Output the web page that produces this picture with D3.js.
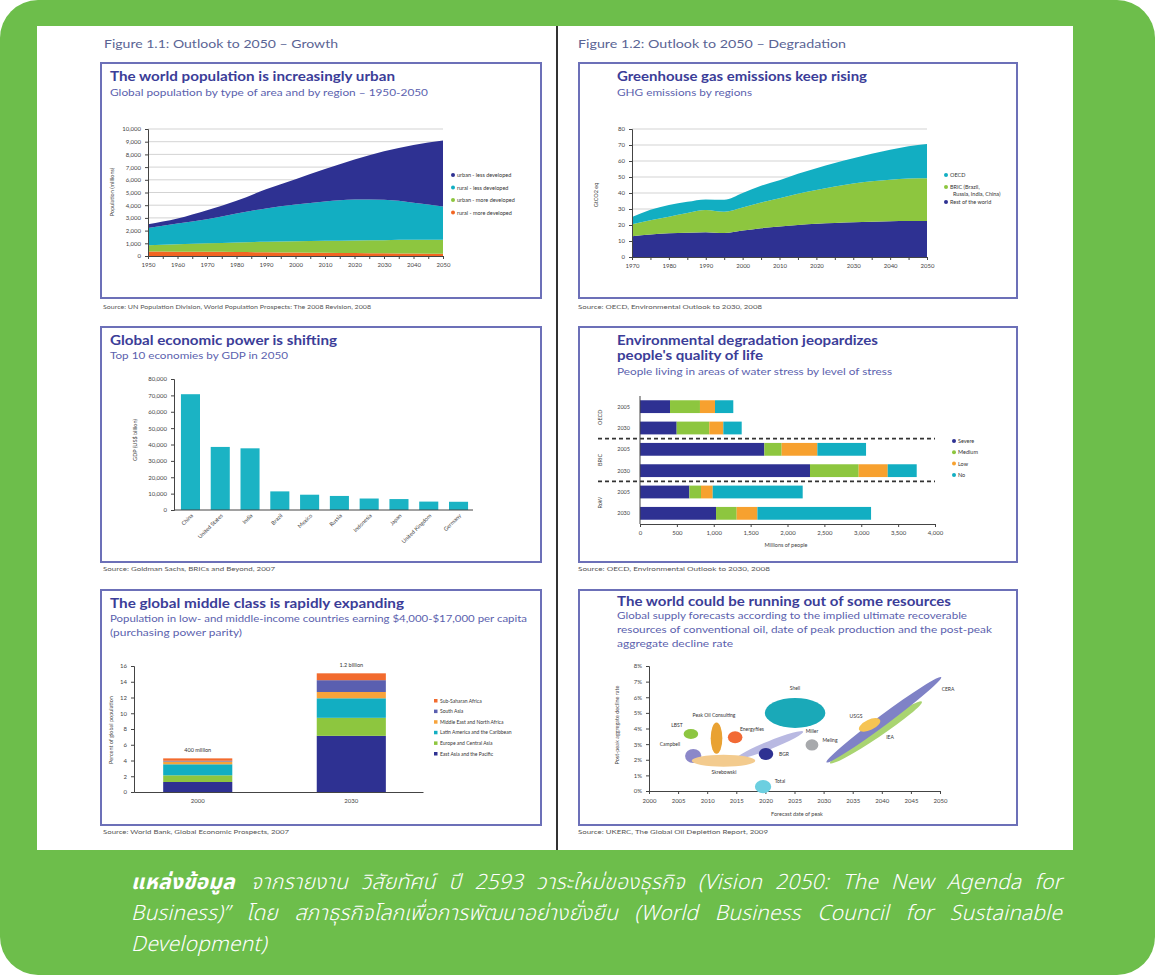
<!DOCTYPE html>
<html>
<head>
<meta charset="utf-8">
<script src="https://cdn.jsdelivr.net/npm/d3@7"></script>
<style>
  body { margin: 0; background: #fff; }
  #page { position: relative; width: 1155px; height: 975px; }
  #note {
    position: absolute; left: 131px; top: 867px; width: 931px;
    font-family: "Noto Sans Thai", "Noto Sans Thai Looped", "Loma", "Garuda", "Noto Sans", sans-serif;
    font-style: italic; font-weight: 300; font-size: 21px; letter-spacing: 0.2px; line-height: 31px; color: #fff;
  }
  #note div { text-align: justify; text-align-last: justify; white-space: nowrap; }
  #note div.last { text-align-last: left; }
  #note b { font-weight: bold; margin-right: 3px; }
  .tk text { font-family: Lato, "Open Sans", sans-serif; font-size: 6px; fill: #444; }
  .tk line, .tk path { stroke: #444; }
</style>
</head>
<body>
<div id="page"></div>
<script>
// ---------- data ----------
// world population by type of area (millions), stacked bottom to top
var popYears = [1950, 1960, 1970, 1980, 1990, 2000, 2010, 2020, 2030, 2040, 2050];
var popRuralMore = [350, 340, 330, 310, 290, 270, 250, 230, 210, 190, 170];
var popUrbanMore = [500, 590, 670, 760, 830, 890, 950, 1000, 1040, 1080, 1110];
var popRuralLess = [1350, 1620, 1900, 2280, 2630, 2890, 3100, 3220, 3170, 2930, 2620];
var popUrbanLess = [300, 400, 700, 1000, 1500, 2000, 2550, 3150, 3830, 4550, 5200];
var popLabels = ["urban - less developed", "rural - less developed", "urban - more developed", "rural - more developed"];

// GHG emissions by region (GtCO2 eq)
var ghgYears = [1970, 1975, 1980, 1985, 1990, 1995, 2000, 2005, 2010, 2015, 2020, 2025, 2030, 2035, 2040, 2045, 2050];
var ghgRest = [13, 14, 14.8, 15.2, 15.5, 15, 16.5, 18, 19, 20, 20.8, 21.3, 21.7, 22, 22.3, 22.5, 22.5];
var ghgBric = [7.5, 9, 10.4, 12.3, 13.9, 13.3, 14.5, 16, 17.7, 19.5, 21, 22.7, 24.3, 25.3, 26, 26.5, 26.7];
var ghgOecd = [4.5, 6.5, 7.3, 7, 6.6, 7.5, 9, 10.5, 11.3, 12.5, 13.7, 14.8, 15.7, 17.2, 18.7, 20.2, 21.4];
var ghgLabels = [["OECD"], ["BRIC (Brazil,", "Russia, India, China)"], ["Rest of the world"]];

// top 10 economies by GDP in 2050 (US$ billion)
var gdpCountries = ["China", "United States", "India", "Brazil", "Mexico", "Russia", "Indonesia", "Japan", "United Kingdom", "Germany"];
var gdpValues = [70710, 38514, 37668, 11366, 9340, 8580, 7010, 6677, 5133, 5024];

// people living in areas of water stress (millions)
var waterGroups = ["OECD", "BRIC", "RoW"];
var waterYears = ["2005", "2030"];
var waterLevels = ["Severe", "Medium", "Low", "No"];
var waterSevere = [407, 497, 1686, 2305, 669, 1031];
var waterMedium = [406, 443, 235, 660, 158, 280];
var waterLow = [204, 190, 484, 394, 159, 281];
var waterNo = [248, 249, 660, 393, 1220, 1541];

// global middle class (percent of world population)
var midYears = ["2000", "2030"];
var midTotals = ["400 million", "1.2 billion"];
var midRegions = ["East Asia and the Pacific", "Europe and Central Asia", "Latin America and the Caribbean",
                  "Middle East and North Africa", "South Asia", "Sub-Saharan Africa"];
var mid2000 = [1.27, 0.85, 1.4, 0.35, 0.1, 0.3];
var mid2030 = [7.13, 2.29, 2.48, 0.8, 1.5, 0.87];

// oil supply forecasts: peak year, decline rate (%), spread in years and in %
var oilNames = ["Shell", "Peak Oil Consulting", "Energyfiles", "LBST", "Campbell", "Skrebowski", "BGR", "Total", "Meling"];
var oilPeak = [2025.1, 2011.6, 2014.8, 2007.2, 2007.6, 2012.8, 2020.1, 2019.6, 2028];
var oilRate = [5.0, 3.38, 3.44, 3.65, 2.24, 1.94, 2.37, 0.28, 2.95];
var oilYearSpread = [5.2, 1.0, 1.25, 1.25, 1.4, 5.45, 1.25, 1.4, 1.1];
var oilRateSpread = [0.96, 1.0, 0.38, 0.32, 0.45, 0.38, 0.38, 0.42, 0.36];
// forecasts given as a range from one peak/decline pair to another
var bandNames = ["IEA", "CERA", "Miller", "USGS"];
var bandFromYear = [2031.1, 2030.5, 2015.1, 2036.1];
var bandFromRate = [1.78, 1.83, 2.1, 3.91];
var bandToYear = [2046.9, 2050.2, 2026.5, 2039.7];
var bandToRate = [5.72, 7.29, 3.8, 4.55];
var bandHalfWidth = [0.35, 0.33, 0.26, 0.33];

// note under the figures, one entry per printed line
var noteLines = [
  "จากรายงาน วิสัยทัศน์ ปี 2593 วาระใหม่ของธุรกิจ (Vision 2050: The New Agenda for",
  "Business)” โดย สภาธุรกิจโลกเพื่อการพัฒนาอย่างยั่งยืน (World Business Council for Sustainable",
  "Development)"
];

// ---------- colours ----------
var navy = "#2e3192", cyan = "#12aec2", green = "#8dc63f", orange = "#f26522";
var titleColor = "#3b3d98", subColor = "#5b5fae", frameColor = "#6c70b8";
var font = "Lato, 'Open Sans', sans-serif";

var svg = d3.select("#page").append("svg")
  .attr("width", 1155).attr("height", 975);

// green background with the white page on it
svg.append("rect").attr("width", 1155).attr("height", 975).attr("rx", 38).attr("fill", "#6dbe4b");
svg.append("rect").attr("x", 37).attr("y", 26).attr("width", 1036).attr("height", 824).attr("fill", "#fff");
svg.append("line").attr("x1", 557).attr("x2", 557).attr("y1", 26).attr("y2", 850)
  .attr("stroke", "#333").attr("stroke-width", 2);

function txt(x, y, s, size, color, opts) {
  opts = opts || {};
  var t = svg.append("text").attr("x", x).attr("y", y).text(s)
    .attr("font-family", font).attr("font-size", size).attr("fill", color);
  if (opts.bold) t.attr("font-weight", "bold");
  if (opts.len) t.attr("textLength", opts.len).attr("lengthAdjust", "spacingAndGlyphs");
  if (opts.anchor) t.attr("text-anchor", opts.anchor);
  if (opts.rotate) t.attr("transform", "rotate(" + opts.rotate + "," + x + "," + y + ")");
  return t;
}

function frame(x, y, w, h) {
  svg.append("rect").attr("x", x).attr("y", y).attr("width", w).attr("height", h)
    .attr("fill", "#fff").attr("stroke", frameColor).attr("stroke-width", 2);
}

function styleAxis(g) {
  g.attr("class", "tk");
  g.selectAll("text").attr("font-family", null).attr("font-size", null);
}

// headers
txt(104, 48, "Figure 1.1: Outlook to 2050 – Growth", 11.5, "#5a6494", {len: 234});
txt(578, 48, "Figure 1.2: Outlook to 2050 – Degradation", 11.5, "#5a6494", {len: 268});

// panel frames
frame(101, 63, 440, 235);
frame(579, 63, 438, 235);
frame(101, 327, 440, 235);
frame(579, 327, 438, 235);
frame(101, 590, 440, 235);
frame(579, 590, 438, 235);

// sources
txt(103, 309, "Source: UN Population Division, World Population Prospects: The 2008 Revision, 2008", 5.5, "#555", {len: 268});
txt(578, 309, "Source: OECD, Environmental Outlook to 2030, 2008", 5.5, "#555", {len: 184});
txt(103, 571, "Source: Goldman Sachs, BRICs and Beyond, 2007", 5.5, "#555", {len: 172});
txt(578, 571, "Source: OECD, Environmental Outlook to 2030, 2008", 5.5, "#555", {len: 192});
txt(103, 834, "Source: World Bank, Global Economic Prospects, 2007", 5.5, "#555", {len: 186});
txt(578, 834, "Source: UKERC, The Global Oil Depletion Report, 2009", 5.5, "#555", {len: 190});

// ---------- panel 1: world population ----------
txt(110, 81, "The world population is increasingly urban", 13, titleColor, {bold: true, len: 285});
txt(110, 96, "Global population by type of area and by region – 1950-2050", 10, subColor, {len: 318});

var x1 = d3.scaleLinear().domain([1950, 2050]).range([148, 443]);
var y1 = d3.scaleLinear().domain([0, 10000]).range([256, 129]);

var popRows = popYears.map(function(yr, i) {
  return {year: yr, rm: popRuralMore[i], um: popUrbanMore[i], rl: popRuralLess[i], ul: popUrbanLess[i]};
});
var popStack = d3.stack().keys(["rm", "um", "rl", "ul"])(popRows);
var popColors = [orange, green, cyan, navy];

svg.append("g").selectAll("line").data(y1.ticks(10).slice(1)).enter().append("line")
  .attr("x1", 148).attr("x2", 443)
  .attr("y1", function(d) { return y1(d); }).attr("y2", function(d) { return y1(d); })
  .attr("stroke", "#c8c8c8").attr("stroke-width", 0.8);

var area1 = d3.area().curve(d3.curveMonotoneX)
  .x(function(d) { return x1(d.data.year); })
  .y0(function(d) { return y1(d[0]); })
  .y1(function(d) { return y1(d[1]); });

svg.append("g").selectAll("path").data(popStack).enter().append("path")
  .attr("d", area1).attr("fill", function(d, i) { return popColors[i]; });

svg.append("g").attr("transform", "translate(148,0)")
  .call(d3.axisLeft(y1).ticks(10).tickFormat(d3.format(",")).tickSize(3).tickPadding(4))
  .call(styleAxis);
svg.append("g").attr("transform", "translate(0,256)")
  .call(d3.axisBottom(x1).tickValues(d3.range(1950, 2051, 5))
    .tickFormat(function(d) { return d % 10 == 0 ? d : ""; }).tickSize(3).tickPadding(4))
  .call(styleAxis);
txt(114, 192, "Population (millions)", 5.5, "#444", {anchor: "middle", rotate: -90});

// legend (top to bottom)
var popLegendColors = [navy, cyan, green, orange];
popLabels.forEach(function(s, i) {
  svg.append("circle").attr("cx", 453).attr("cy", 175 + i * 12.5).attr("r", 2).attr("fill", popLegendColors[i]);
  txt(457, 177 + i * 12.5, s, 5.5, "#333");
});

// ---------- panel 2: GHG emissions ----------
txt(617, 81, "Greenhouse gas emissions keep rising", 13, titleColor, {bold: true, len: 250});
txt(617, 96, "GHG emissions by regions", 10, subColor, {len: 135});

var x2 = d3.scaleLinear().domain([1970, 2050]).range([632, 927]);
var y2 = d3.scaleLinear().domain([0, 80]).range([257, 129]);

var ghgRows = ghgYears.map(function(yr, i) {
  return {year: yr, rest: ghgRest[i], bric: ghgBric[i], oecd: ghgOecd[i]};
});
var ghgStack = d3.stack().keys(["rest", "bric", "oecd"])(ghgRows);
var ghgColors = [navy, green, cyan];

svg.append("g").selectAll("line").data(d3.range(10, 81, 10)).enter().append("line")
  .attr("x1", 632).attr("x2", 927)
  .attr("y1", function(d) { return y2(d); }).attr("y2", function(d) { return y2(d); })
  .attr("stroke", "#c8c8c8").attr("stroke-width", 0.8);

var area2 = d3.area().curve(d3.curveMonotoneX)
  .x(function(d) { return x2(d.data.year); })
  .y0(function(d) { return y2(d[0]); })
  .y1(function(d) { return y2(d[1]); });

svg.append("g").selectAll("path").data(ghgStack).enter().append("path")
  .attr("d", area2).attr("fill", function(d, i) { return ghgColors[i]; });

svg.append("g").attr("transform", "translate(632,0)")
  .call(d3.axisLeft(y2).ticks(8).tickSize(3).tickPadding(4))
  .call(styleAxis);
svg.append("g").attr("transform", "translate(0,257)")
  .call(d3.axisBottom(x2).tickValues(ghgYears)
    .tickFormat(function(d) { return d % 10 == 0 ? d : ""; }).tickSize(3).tickPadding(4))
  .call(styleAxis);
txt(598, 195, "GtCO2 eq", 5.5, "#444", {anchor: "middle", rotate: -90});

var ghgLegendColors = [cyan, green, navy];
var ghgLegendY = [175, 187, 202];
ghgLabels.forEach(function(lines, i) {
  svg.append("circle").attr("cx", 946).attr("cy", ghgLegendY[i]).attr("r", 2).attr("fill", ghgLegendColors[i]);
  lines.forEach(function(s, j) {
    txt(j == 0 ? 950 : 953, ghgLegendY[i] + 2 + j * 6.5, s, 5.5, "#333");
  });
});

// ---------- panel 3: GDP ----------
txt(110, 345, "Global economic power is shifting", 13, titleColor, {bold: true, len: 227});
txt(110, 359, "Top 10 economies by GDP in 2050", 10, subColor, {len: 178});

var x3 = d3.scaleBand().domain(gdpCountries).range([172, 477]).paddingInner(0.36).paddingOuter(0.3);
var y3 = d3.scaleLinear().domain([0, 80000]).range([510, 379]);

svg.append("g").selectAll("rect").data(gdpValues).enter().append("rect")
  .attr("x", function(d, i) { return x3(gdpCountries[i]); })
  .attr("width", x3.bandwidth())
  .attr("y", function(d) { return y3(d); })
  .attr("height", function(d) { return 510 - y3(d); })
  .attr("fill", "#1bb3c4");

svg.append("g").attr("transform", "translate(174,0)")
  .call(d3.axisLeft(y3).ticks(8).tickFormat(d3.format(",")).tickSize(3).tickPadding(4))
  .call(styleAxis);
svg.append("line").attr("x1", 174).attr("x2", 473).attr("y1", 510).attr("y2", 510).attr("stroke", "#444");
gdpCountries.forEach(function(c) {
  var cx = x3(c) + x3.bandwidth() / 2 + 3;
  txt(cx, 516, c, 5.5, "#444", {anchor: "end", rotate: -45});
});
txt(137, 440, "GDP (US$ billion)", 5.5, "#444", {anchor: "middle", rotate: -90});

// ---------- panel 4: water stress ----------
txt(617, 345, "Environmental degradation jeopardizes", 13, titleColor, {bold: true, len: 261});
txt(617, 360, "people's quality of life", 13, titleColor, {bold: true, len: 146});
txt(617, 375, "People living in areas of water stress by level of stress", 10, subColor, {len: 275});

var rowKeys = [];
waterGroups.forEach(function(g) { waterYears.forEach(function(y) { rowKeys.push(g + y); }); });
var x4 = d3.scaleLinear().domain([0, 4000]).range([640, 935]);
var y4 = d3.scaleBand().domain(rowKeys).range([396, 524]).paddingInner(0.4).paddingOuter(0.2);

var waterRows = rowKeys.map(function(k, i) {
  return {key: k, Severe: waterSevere[i], Medium: waterMedium[i], Low: waterLow[i], No: waterNo[i]};
});
var waterStack = d3.stack().keys(waterLevels)(waterRows);
var waterColors = [navy, green, "#f7a12f", cyan];

svg.append("g").selectAll("g").data(waterStack).enter().append("g")
  .attr("fill", function(d, i) { return waterColors[i]; })
  .selectAll("rect").data(function(d) { return d; }).enter().append("rect")
  .attr("x", function(d) { return x4(d[0]); })
  .attr("width", function(d) { return x4(d[1]) - x4(d[0]); })
  .attr("y", function(d) { return y4(d.data.key); })
  .attr("height", y4.bandwidth());

// dashed separators between groups
[1, 3].forEach(function(i) {
  var yy = (y4(rowKeys[i]) + y4.bandwidth() + y4(rowKeys[i + 1])) / 2;
  svg.append("line").attr("x1", 598).attr("x2", 935).attr("y1", yy).attr("y2", yy)
    .attr("stroke", "#333").attr("stroke-width", 1.6).attr("stroke-dasharray", "4,3");
});

svg.append("line").attr("x1", 640).attr("x2", 640).attr("y1", 396).attr("y2", 524).attr("stroke", "#444");
svg.append("g").attr("transform", "translate(0,524)")
  .call(d3.axisBottom(x4).ticks(8).tickFormat(d3.format(",")).tickSize(3).tickPadding(4))
  .call(styleAxis);
rowKeys.forEach(function(k, i) {
  txt(630, y4(k) + y4.bandwidth() / 2 + 2, waterYears[i % 2], 5.5, "#444", {anchor: "end"});
});
waterGroups.forEach(function(g, i) {
  var yy = (y4(rowKeys[i * 2]) + y4(rowKeys[i * 2 + 1]) + y4.bandwidth()) / 2;
  txt(602, yy, g, 5.5, "#444", {anchor: "middle", rotate: -90});
});
txt(786, 547, "Millions of people", 5.5, "#444", {anchor: "middle"});

waterLevels.forEach(function(s, i) {
  svg.append("circle").attr("cx", 954).attr("cy", 441 + i * 11.3).attr("r", 2).attr("fill", waterColors[i]);
  txt(958, 443 + i * 11.3, s, 5.5, "#333");
});

// ---------- panel 5: middle class ----------
txt(110, 608, "The global middle class is rapidly expanding", 13, titleColor, {bold: true, len: 294});
txt(110, 622, "Population in low- and middle-income countries earning $4,000-$17,000 per capita", 10, subColor, {len: 417});
txt(110, 636, "(purchasing power parity)", 10, subColor, {len: 132});

var x5 = d3.scaleBand().domain(midYears).range([134, 423]).paddingInner(0.55).paddingOuter(0.216).align(0.44);
var y5 = d3.scaleLinear().domain([0, 16]).range([792, 666]);
var midColors = [navy, green, cyan, "#f7a33b", "#5a5fb0", "#f26b2e"];

var midRows = [mid2000, mid2030].map(function(v, i) {
  var r = {year: midYears[i]};
  midRegions.forEach(function(reg, j) { r[reg] = v[j]; });
  return r;
});
var midStack = d3.stack().keys(midRegions)(midRows);

svg.append("g").selectAll("g").data(midStack).enter().append("g")
  .attr("fill", function(d, i) { return midColors[i]; })
  .selectAll("rect").data(function(d) { return d; }).enter().append("rect")
  .attr("x", function(d) { return x5(d.data.year); })
  .attr("width", x5.bandwidth())
  .attr("y", function(d) { return y5(d[1]); })
  .attr("height", function(d) { return y5(d[0]) - y5(d[1]); });

svg.append("g").attr("transform", "translate(134,0)")
  .call(d3.axisLeft(y5).ticks(8).tickSize(3).tickPadding(4))
  .call(styleAxis);
svg.append("g").attr("transform", "translate(0,792)")
  .call(d3.axisBottom(x5).tickSize(0).tickPadding(7))
  .call(styleAxis);
midRows.forEach(function(r, i) {
  var top = d3.sum(midRegions, function(reg) { return r[reg]; });
  txt(x5(r.year) + x5.bandwidth() / 2, y5(top) - 6, midTotals[i], 5.5, "#333", {anchor: "middle"});
});
txt(113, 730, "Percent of global population", 5.5, "#444", {anchor: "middle", rotate: -90});

midRegions.slice().reverse().forEach(function(s, i) {
  svg.append("rect").attr("x", 434).attr("y", 699 + i * 10.6).attr("width", 3.5).attr("height", 3.5)
    .attr("fill", midColors[midRegions.length - 1 - i]);
  txt(440, 702.5 + i * 10.6, s, 5, "#333");
});

// ---------- panel 6: oil forecasts ----------
txt(617, 606, "The world could be running out of some resources", 13, titleColor, {bold: true, len: 334});
txt(617, 619, "Global supply forecasts according to the implied ultimate recoverable", 10, subColor, {len: 350});
txt(617, 633, "resources of conventional oil, date of peak production and the post-peak", 10, subColor, {len: 375});
txt(617, 647, "aggregate decline rate", 10, subColor, {len: 116});

var x6 = d3.scaleLinear().domain([2000, 2050]).range([649, 940]);
var y6 = d3.scaleLinear().domain([0, 8]).range([791, 666]);
var oilColors = ["#1aa9b8", "#e9a233", "#f26a35", "#8dc641", "#8c88c9", "#f3cb8e", "#2e3192", "#6ccfe0", "#a7a9ac"];
var bandColors = ["#a9d471", "#7f82c6", "#b9b9e2", "#f6c454"];

svg.append("g").attr("transform", "translate(649,0)")
  .call(d3.axisLeft(y6).ticks(8).tickFormat(function(d) { return d + "%"; }).tickSize(3).tickPadding(4))
  .call(styleAxis);
svg.append("g").attr("transform", "translate(0,791)")
  .call(d3.axisBottom(x6).ticks(10).tickFormat(d3.format("d")).tickSize(3).tickPadding(5))
  .call(styleAxis);
txt(797, 816, "Forecast date of peak", 5.5, "#444", {anchor: "middle"});
txt(619, 725, "Post-peak aggregate decline rate", 5.5, "#444", {anchor: "middle", rotate: -90});

// diagonal ranges drawn as rotated ellipses
bandNames.forEach(function(n, i) {
  var xa = x6(bandFromYear[i]), ya = y6(bandFromRate[i]);
  var xb = x6(bandToYear[i]), yb = y6(bandToRate[i]);
  var len = Math.sqrt((xb - xa) * (xb - xa) + (yb - ya) * (yb - ya));
  var ang = Math.atan2(yb - ya, xb - xa) * 180 / Math.PI;
  var hw = y6(0) - y6(bandHalfWidth[i]);
  svg.append("ellipse")
    .attr("cx", (xa + xb) / 2).attr("cy", (ya + yb) / 2)
    .attr("rx", len / 2).attr("ry", hw)
    .attr("transform", "rotate(" + ang + "," + (xa + xb) / 2 + "," + (ya + yb) / 2 + ")")
    .attr("fill", bandColors[i]);
});

svg.append("g").selectAll("ellipse").data(oilNames).enter().append("ellipse")
  .attr("cx", function(d, i) { return x6(oilPeak[i]); })
  .attr("cy", function(d, i) { return y6(oilRate[i]); })
  .attr("rx", function(d, i) { return x6(oilPeak[i] + oilYearSpread[i]) - x6(oilPeak[i]); })
  .attr("ry", function(d, i) { return y6(0) - y6(oilRateSpread[i]); })
  .attr("fill", function(d, i) { return oilColors[i]; });

// bubble labels
var oilLabelPos = [[795, 690], [714, 717], [752, 731], [677, 727], [670, 746], [724, 774], [784, 756], [780, 783], [830, 742]];
oilNames.forEach(function(n, i) {
  txt(oilLabelPos[i][0], oilLabelPos[i][1], n, 5, "#333", {anchor: "middle"});
});
var bandLabelPos = [[890, 739], [948, 691], [812, 733], [856, 718]];
bandNames.forEach(function(n, i) {
  txt(bandLabelPos[i][0], bandLabelPos[i][1], n, 5, "#333", {anchor: "middle"});
});

// ---------- note under the figures ----------
var note = d3.select("#page").append("div").attr("id", "note");
note.selectAll("div").data(noteLines).enter().append("div")
  .attr("class", function(d, i) { return i == noteLines.length - 1 ? "last" : null; })
  .each(function(d, i) {
    if (i == 0) d3.select(this).append("b").text("แหล่งข้อมูล");
    d3.select(this).append("span").text((i == 0 ? " " : "") + d);
  });
</script>
</body>
</html>
